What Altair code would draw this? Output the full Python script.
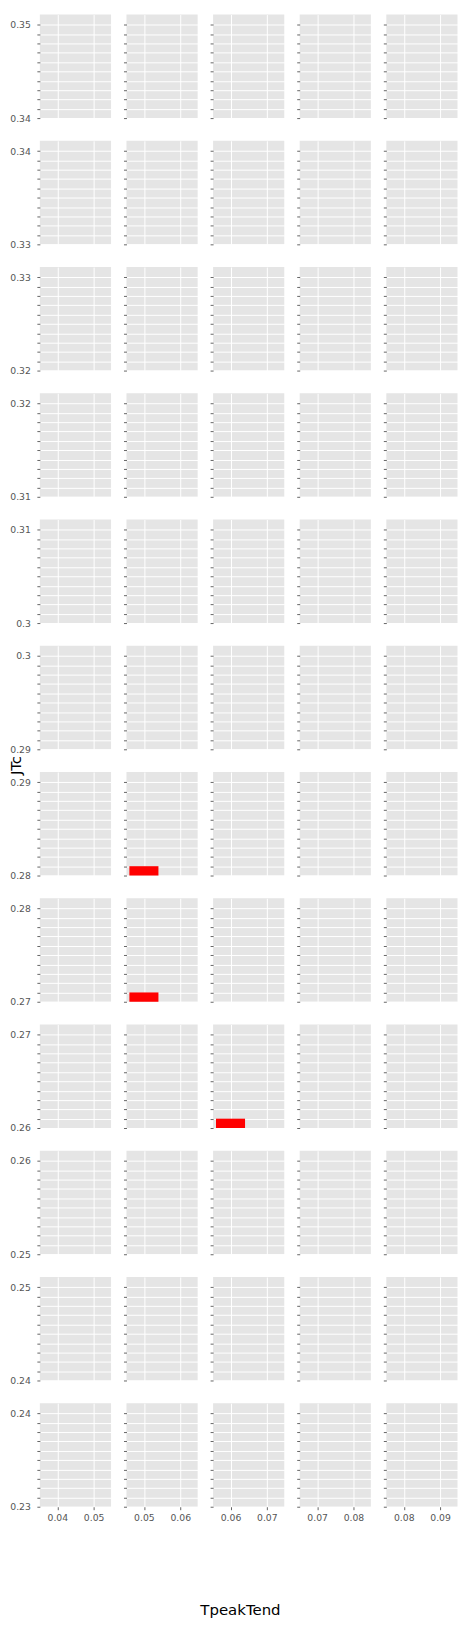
import altair as alt
import pandas as pd

# ---- data ----
row_lows = [0.34, 0.33, 0.32, 0.31, 0.30, 0.29, 0.28, 0.27, 0.26, 0.25, 0.24, 0.23]
col_lows = [0.04, 0.05, 0.06, 0.07, 0.08]

bar_row = [6, 7, 8]
bar_col = [1, 1, 2]
bar_x0 = [0.046, 0.046, 0.056]
bar_x1 = [0.054, 0.054, 0.064]
bar_y0 = [0.280, 0.270, 0.260]
bar_y1 = [0.281, 0.271, 0.261]

x_title = "TpeakTend"
y_title = "JTc"

df = pd.DataFrame({"row": bar_row, "col": bar_col,
                   "x0": bar_x0, "x1": bar_x1, "y0": bar_y0, "y1": bar_y1})

W, H = 71.5, 104
FONT = "DejaVu Sans"
TICK_COLOR = "#555555"
LABEL_COLOR = "#555555"

nrows, ncols = len(row_lows), len(col_lows)
label_expr = ("abs(datum.value*100 - round(datum.value*100)) < 0.001 ? "
              "format(datum.value, '.2~f') : ''")

charts = []
for r, lo in enumerate(row_lows):
    for c, cx in enumerate(col_lows):
        yticks = [round(lo + i * 0.001, 3) for i in range(11)]
        xticks = [round(cx, 2), round(cx + 0.01, 2)]
        bottom = r == nrows - 1
        left = c == 0

        xaxis = dict(values=xticks, grid=True, domain=False, ticks=bottom,
                     labels=bottom, tickSize=3, tickWidth=0.9, tickColor=TICK_COLOR,
                     labelColor=LABEL_COLOR, labelFontSize=9.3, labelPadding=4,
                     labelFont=FONT, labelFlush=False, labelOverlap=False,
                     format=".2~f", gridColor="white", gridWidth=1, title="")
        if bottom and c == 2:
            xaxis.update(title=x_title, titleX=27, titleY=108, titleAlign="center",
                         titleBaseline="alphabetic", titleFontSize=15,
                         titleFontWeight="normal", titleColor="black", titleFont=FONT)

        yaxis = dict(values=yticks, grid=True, domain=False, ticks=True, labels=left,
                     tickSize=3, tickWidth=0.9, tickColor=TICK_COLOR,
                     labelColor=LABEL_COLOR, labelFontSize=9.3, labelPadding=6.5,
                     labelFont=FONT, labelExpr=label_expr, labelFlush=False,
                     labelOverlap=False, labelBound=False, gridColor="white",
                     gridWidth=1, title="")
        if left and r == 6:
            yaxis.update(title=y_title, titleX=-19, titleY=-7, titleAngle=270,
                         titleAlign="center", titleBaseline="alphabetic",
                         titleFontSize=15, titleFontWeight="normal",
                         titleColor="black", titleFont=FONT)

        ch = (
            alt.Chart()
            .transform_filter(f"datum.row == {r} && datum.col == {c}")
            .mark_rect(color="#FF0000")
            .encode(
                x=alt.X("x0:Q", scale=alt.Scale(domain=[cx - 0.0048, cx + 0.0148],
                                                nice=False, zero=False),
                        axis=alt.Axis(**xaxis)),
                x2="x1:Q",
                y=alt.Y("y0:Q", scale=alt.Scale(domain=[lo, lo + 0.0111],
                                                nice=False, zero=False),
                        axis=alt.Axis(**yaxis)),
                y2="y1:Q",
            )
            .properties(width=W, height=H)
        )
        charts.append(ch)

chart = (
    alt.concat(*charts, columns=ncols, data=df,
               spacing={"row": 22.8, "column": 15}, bounds="flush")
    .properties(padding={"left": 0, "top": 3, "right": 0, "bottom": 0},
                background="white")
    .configure_view(fill="#E5E5E5", strokeWidth=0)
)

chart.save("out.html", embed_options={"renderer": "svg", "actions": False})
